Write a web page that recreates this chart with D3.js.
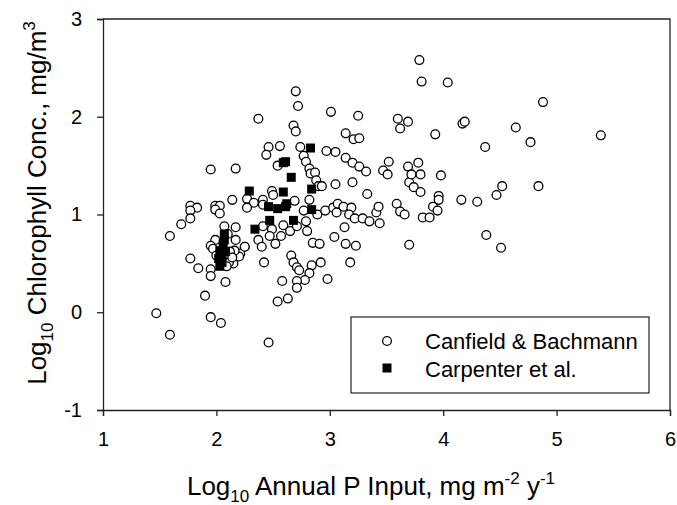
<!DOCTYPE html>
<html>
<head>
<meta charset="utf-8">
<script src="https://cdn.jsdelivr.net/npm/d3@7"></script>
<style>
  body { margin: 0; background: #fff; }
  svg { display: block; font-family: "Liberation Sans", Arial, sans-serif; }
</style>
</head>
<body>
<svg id="chart"></svg>
<script>
let width = 677;
let height = 505;
let margin = ({top: 19, right: 7, bottom: 95, left: 103});

// Canfield & Bachmann: [log10 P input, log10 chlorophyll]
const canfieldX = [
  2.70, 2.72, 2.37, 3.01, 3.25, 3.60, 3.69, 3.62, 2.68, 2.70, 3.14, 3.21, 3.26,
  2.46, 2.44, 2.56, 2.74, 2.97, 3.05, 2.77, 2.79, 2.82, 2.83, 2.87, 2.88, 2.90,
  2.93, 3.05, 3.14, 3.20, 3.26, 3.32, 3.52, 3.47, 3.51, 2.54, 1.95, 2.17, 3.20,
  3.33, 3.70, 3.74, 3.80, 3.79, 3.81, 4.04, 4.88, 4.17, 4.19, 4.64, 3.93, 4.77,
  5.39, 4.37, 3.69, 3.72, 3.78, 3.80, 3.98, 3.96, 3.96, 4.52, 4.47, 4.84, 4.16,
  4.30, 2.49, 2.50, 2.69, 2.82, 2.14, 2.27, 2.41,
  2.33, 2.27, 2.41, 1.77, 1.83, 1.99, 2.03, 1.99, 2.03, 1.77, 1.77, 1.69, 1.59,
  2.77, 2.89, 2.96, 3.03, 3.07, 3.12, 3.06, 3.19, 3.17, 3.22, 3.29, 3.35, 3.44,
  3.41, 3.43, 3.59, 3.62, 3.66, 3.82, 3.88, 3.91, 3.95, 2.79, 2.41, 2.49, 2.59,
  2.65, 2.80, 2.71, 2.07, 2.17, 3.13,
  2.37, 2.40, 2.47, 2.57, 2.52, 2.25, 2.21, 2.85, 2.91, 3.04, 3.14, 3.23, 3.70,
  3.18, 2.42, 2.66, 2.68, 2.71, 2.73, 2.84, 2.92, 2.82, 2.78, 2.71, 2.71, 2.58,
  2.98, 2.54, 2.63, 4.38, 4.51,
  1.99, 1.95, 1.97, 2.17, 2.25, 2.20, 2.15, 2.11, 2.16, 1.77, 1.84, 1.95, 1.95,
  2.08, 2.09, 1.90, 1.47, 1.59, 1.95, 2.04, 2.46,
  2.12, 2.14, 2.00, 2.10
];
const canfieldY = [
  2.26, 2.11, 1.98, 2.05, 2.01, 1.98, 1.95, 1.88, 1.91, 1.85, 1.83, 1.77, 1.78,
  1.69, 1.61, 1.70, 1.69, 1.65, 1.64, 1.60, 1.54, 1.47, 1.42, 1.43, 1.35, 1.29,
  1.29, 1.31, 1.58, 1.53, 1.49, 1.44, 1.54, 1.45, 1.41, 1.50, 1.46, 1.47, 1.33,
  1.21, 1.33, 1.28, 1.23, 2.58, 2.36, 2.35, 2.15, 1.93, 1.95, 1.89, 1.82, 1.74,
  1.81, 1.69, 1.49, 1.41, 1.53, 1.41, 1.40, 1.19, 1.15, 1.29, 1.20, 1.29, 1.15,
  1.13, 1.24, 1.20, 1.14, 1.15, 1.15, 1.16, 1.15,
  1.12, 1.07, 1.10, 1.09, 1.07, 1.09, 1.09, 1.05, 1.01, 1.04, 0.96, 0.90, 0.78,
  1.04, 1.00, 1.04, 1.07, 1.11, 1.08, 1.02, 1.07, 1.00, 0.96, 0.96, 0.93, 0.91,
  1.02, 1.08, 1.11, 1.03, 1.00, 0.97, 0.97, 1.08, 1.04, 0.93, 0.88, 0.85, 0.89,
  0.83, 0.83, 0.88, 0.88, 0.87, 0.87,
  0.74, 0.67, 0.78, 0.78, 0.70, 0.67, 0.60, 0.71, 0.70, 0.77, 0.70, 0.68, 0.69,
  0.51, 0.51, 0.58, 0.51, 0.46, 0.43, 0.48, 0.51, 0.40, 0.33, 0.32, 0.25, 0.32,
  0.34, 0.11, 0.14, 0.79, 0.66,
  0.74, 0.68, 0.65, 0.74, 0.67, 0.57, 0.50, 0.51, 0.63, 0.55, 0.45, 0.44, 0.37,
  0.31, 0.47, 0.17, -0.01, -0.23, -0.05, -0.11, -0.31,
  0.62, 0.56, 0.58, 0.80
];

// Carpenter et al.
const carpenterX = [
  2.83, 2.59, 2.61, 2.66, 2.29, 2.59, 2.84, 2.46, 2.54, 2.61, 2.62, 2.84, 2.47,
  2.68, 2.34, 2.07, 2.07, 2.06, 2.03, 2.08, 2.05, 2.02, 2.05, 2.03
];
const carpenterY = [
  1.68, 1.53, 1.54, 1.38, 1.24, 1.23, 1.26, 1.08, 1.06, 1.08, 1.11, 1.05, 0.94,
  0.94, 0.85, 0.80, 0.74, 0.70, 0.63, 0.62, 0.58, 0.55, 0.51, 0.47
];

const xTicks = [1, 2, 3, 4, 5, 6];
const yTicks = [-1, 0, 1, 2, 3];
const seriesNames = ["Canfield & Bachmann", "Carpenter et al."];

const canfield = canfieldX.map((x, i) => ({x, y: canfieldY[i]}));
const carpenter = carpenterX.map((x, i) => ({x, y: carpenterY[i]}));

const svg = d3.select("#chart")
    .attr("width", width)
    .attr("height", height);

let x = d3.scaleLinear()
    .domain([1, 6])
    .range([margin.left, width - margin.right]);

let y = d3.scaleLinear()
    .domain([-1, 3])
    .range([height - margin.bottom, margin.top]);

// frame (top and right)
svg.append("path")
    .attr("d", `M${x(1)},${y(3)}H${x(6)}V${y(-1)}`)
    .attr("fill", "none")
    .attr("stroke", "#222")
    .attr("stroke-width", 1.3);

const fmt = d => String(d); // plain hyphen for -1

let xAxis = g => g
    .attr("transform", `translate(0,${y(-1)})`)
    .call(d3.axisBottom(x).tickValues(xTicks).tickFormat(fmt)
        .tickSizeOuter(0).tickSize(6).tickPadding(16));

let yAxis = g => g
    .attr("transform", `translate(${x(1)},0)`)
    .call(d3.axisLeft(y).tickValues(yTicks).tickFormat(fmt)
        .tickSizeOuter(0).tickSize(6).tickPadding(15));

[xAxis, yAxis].forEach(ax => {
    svg.append("g")
        .call(ax)
        .call(g => g.selectAll("path, line").attr("stroke", "#222").attr("stroke-width", 1.3))
        .call(g => g.selectAll("text")
            .attr("fill", "#000")
            .style("font-size", "20px")
            .style("font-family", "'Liberation Sans', Arial, sans-serif"));
});

// points
svg.append("g")
    .selectAll("circle")
    .data(canfield)
    .join("circle")
    .attr("cx", d => x(d.x))
    .attr("cy", d => y(d.y))
    .attr("r", 4.4)
    .attr("fill", "#fff")
    .attr("stroke", "#000")
    .attr("stroke-width", 1.3);

const sq = 9;
svg.append("g")
    .selectAll("rect")
    .data(carpenter)
    .join("rect")
    .attr("x", d => x(d.x) - sq / 2)
    .attr("y", d => y(d.y) - sq / 2)
    .attr("width", sq)
    .attr("height", sq)
    .attr("fill", "#000");

// legend
const legend = svg.append("g");
legend.append("rect")
    .attr("x", 351).attr("y", 317)
    .attr("width", 298).attr("height", 76)
    .attr("fill", "#fff")
    .attr("stroke", "#222")
    .attr("stroke-width", 1.2);

legend.append("circle")
    .attr("cx", 387).attr("cy", 341)
    .attr("r", 4.4)
    .attr("fill", "#fff")
    .attr("stroke", "#000")
    .attr("stroke-width", 1.3);
legend.append("rect")
    .attr("x", 387 - sq / 2).attr("y", 368 - sq / 2)
    .attr("width", sq).attr("height", sq)
    .attr("fill", "#000");

legend.selectAll("text")
    .data(seriesNames)
    .join("text")
    .attr("x", 425)
    .attr("y", (d, i) => 349 + i * 28)
    .style("font-size", "22px")
    .text(d => d);

// axis titles
const xTitle = svg.append("text")
    .attr("x", 371)
    .attr("y", 495)
    .attr("text-anchor", "middle")
    .style("font-size", "26px");
xTitle.append("tspan").text("Log");
xTitle.append("tspan").attr("dy", 7).style("font-size", "17px").text("10");
xTitle.append("tspan").attr("dy", -7).text(" Annual P Input, mg m");
xTitle.append("tspan").attr("dy", -11).style("font-size", "17px").text("-2");
xTitle.append("tspan").attr("dy", 11).text(" y");
xTitle.append("tspan").attr("dy", -11).style("font-size", "17px").text("-1");

const yTitle = svg.append("text")
    .attr("transform", `translate(46,203) rotate(-90)`)
    .attr("text-anchor", "middle")
    .style("font-size", "26px");
yTitle.append("tspan").text("Log");
yTitle.append("tspan").attr("dy", 7).style("font-size", "17px").text("10");
yTitle.append("tspan").attr("dy", -7).text(" Chlorophyll Conc., mg/m");
yTitle.append("tspan").attr("dy", -11).style("font-size", "17px").text("3");
</script>
</body>
</html>
